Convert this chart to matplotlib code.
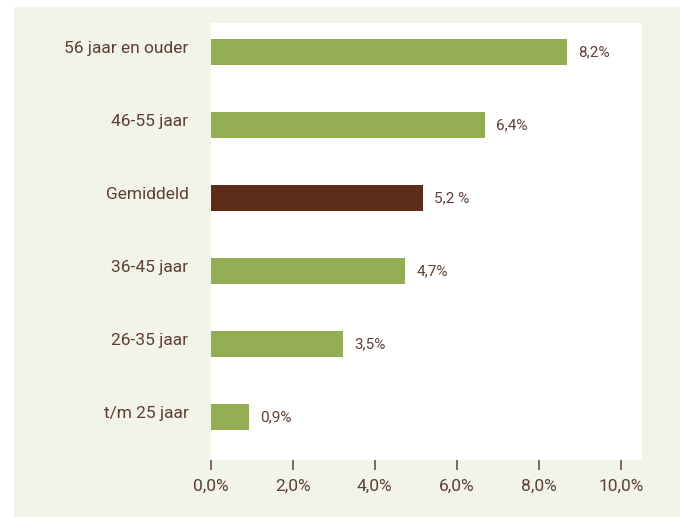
import matplotlib
matplotlib.use('Agg')
import matplotlib.pyplot as plt
import matplotlib.patches as mpatches
import matplotlib.transforms as mtransforms
from matplotlib.ticker import FuncFormatter

# ── Palette ───────────────────────────────────────────────────────────────────
BEIGE = "#f2f3e9"
GREEN = "#95ad53"
BROWN = "#5c2e1a"
TEXT  = "#5e3f35"

# ── Data (bottom to top) ──────────────────────────────────────────────────────
categories = ["t/m 25 jaar", "26-35 jaar", "36-45 jaar", "Gemiddeld",
              "46-55 jaar", "56 jaar en ouder"]
bar_values = [0.93, 3.22, 4.74, 5.18, 6.69, 8.69]
value_labels = ["0,9%", "3,5%", "4,7%", "5,2 %", "6,4%", "8,2%"]
highlight = "Gemiddeld"
xticks = [0, 2, 4, 6, 8, 10]

plt.rcParams['font.family'] = ['Roboto', 'DejaVu Sans']

fig = plt.figure(figsize=(6.8, 5.17), dpi=100)
fig.patch.set_facecolor("white")
# beige frame behind everything
frame = mpatches.Rectangle((14 / 680, 0), 1 - 14 / 680, (517 - 7) / 517,
                           transform=fig.transFigure, facecolor=BEIGE,
                           edgecolor="none", zorder=-10)
fig.add_artist(frame)

ax = fig.add_axes([210.7 / 680, 57 / 517, 431 / 680, 437.3 / 517])
ax.set_facecolor("white")

colors = [BROWN if c == highlight else GREEN for c in categories]
ypos = range(len(categories))
bars = ax.barh(ypos, bar_values, height=0.356, color=colors, zorder=2)

for bar, lab in zip(bars, value_labels):
    ax.annotate(lab, (bar.get_width(), bar.get_y() + bar.get_height() / 2),
                xytext=(8, 0), textcoords="offset points",
                va="center", ha="left", fontsize=11, color=TEXT)

ax.set_yticks(list(ypos))
ax.set_yticklabels(categories, fontsize=12.5, color=TEXT)
ax.tick_params(axis="y", length=0, pad=16)
# category labels sit a little above the bar centre in the original
shift = mtransforms.ScaledTranslation(0, 5 / 100, fig.dpi_scale_trans)
for t in ax.get_yticklabels():
    t.set_transform(t.get_transform() + shift)

ax.set_xticks(xticks)
ax.xaxis.set_major_formatter(FuncFormatter(lambda x, _: f"{x:.1f}%".replace(".", ",")))
ax.tick_params(axis="x", length=7.5, width=1.1, color=TEXT, labelcolor=TEXT,
               labelsize=12.5, pad=6, direction="out")

ax.set_xlim(0, 10.51)
ax.set_ylim(-0.59, 5.40)
for s in ax.spines.values():
    s.set_visible(False)

fig.savefig("out.png", dpi=100, facecolor=fig.get_facecolor())
